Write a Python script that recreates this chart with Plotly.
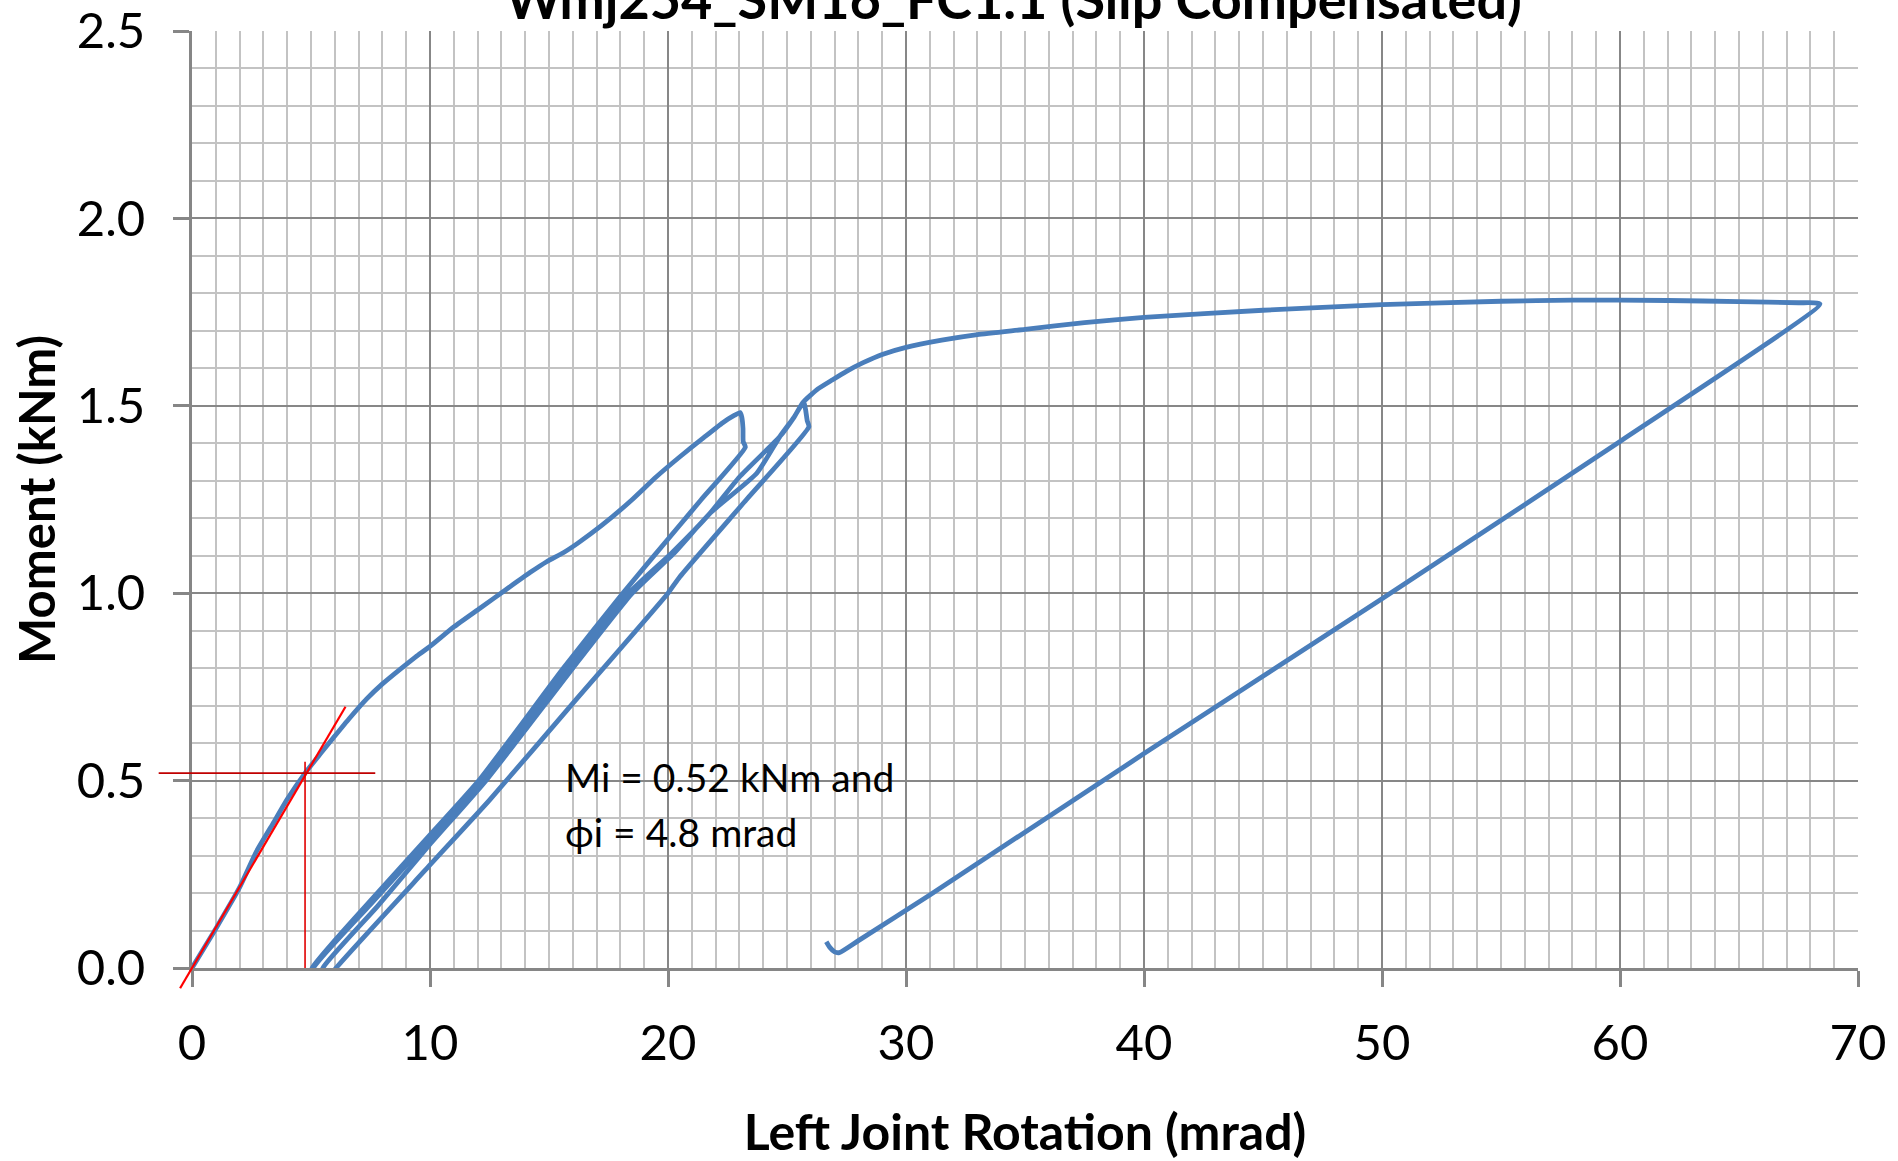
import plotly.graph_objects as go

# ---------------- data ----------------
# initial loading up to first peak
load1_x = [0, 1.0, 2.0, 2.7, 3.4, 4.0, 4.75, 5.4, 5.95, 6.6, 7.34, 8.0, 8.74, 9.4, 10.0, 11.0, 12.1, 13.2,
           14.2, 14.9, 15.6, 16.2, 17.2, 18.5, 19.5, 20.5, 21.5, 22.3, 22.8, 23.03]
load1_y = [0, 0.105, 0.215, 0.31, 0.385, 0.45, 0.52, 0.572, 0.615, 0.665, 0.718, 0.758, 0.797, 0.83, 0.858,
           0.91, 0.96, 1.01, 1.055, 1.084, 1.108, 1.133, 1.18, 1.25, 1.31, 1.364, 1.415, 1.455, 1.475, 1.482]
# relaxation at peak 1 and first unloading
unload1_x = [23.1, 23.15, 23.16, 23.25, 21.4, 20.5, 18.1, 15.6, 12.05, 10.0, 7.5, 5.05, 4.95]
unload1_y = [1.47, 1.44, 1.404, 1.39, 1.25, 1.182, 1.0, 0.8, 0.5, 0.355, 0.18, 0.0, -0.04]
# first reloading up to peak 2
reload1_x = [5.0, 5.1, 7.5, 10.0, 12.2, 15.8, 18.35, 20.2, 21.76, 23.0, 24.7, 25.3, 25.7]
reload1_y = [-0.04, 0.0, 0.17, 0.345, 0.5, 0.8, 1.0, 1.11, 1.213, 1.31, 1.418, 1.47, 1.511]
# relaxation at peak 2 and second unloading
unload2_x = [25.78, 25.85, 25.92, 23.3, 20.5, 20.0, 16.0, 12.5, 10.0, 6.05, 5.6]
unload2_y = [1.49, 1.46, 1.444, 1.25, 1.044, 1.0, 0.706, 0.448, 0.275, 0.0, -0.04]
# second reloading
reload2_x = [5.4, 5.5, 7.8, 10.0, 12.35, 16.0, 18.5, 20.3, 21.76, 23.73, 24.7, 25.3, 25.7]
reload2_y = [-0.04, 0.0, 0.165, 0.33, 0.5, 0.8, 1.0, 1.11, 1.213, 1.32, 1.418, 1.47, 1.511]
# loading to maximum
envelope_x = [26.3, 26.9, 27.5, 28.2, 29.0, 30.0, 31.5, 33.0, 35.0, 37.5, 40.0, 45.0, 50.0, 55.0, 58.0,
              62.0, 65.0, 67.5, 68.4]
envelope_y = [1.545, 1.569, 1.592, 1.615, 1.637, 1.656, 1.675, 1.69, 1.704, 1.722, 1.736, 1.755, 1.77,
              1.779, 1.782, 1.781, 1.778, 1.775, 1.772]
# final unloading
unload3_x = [60.0, 50.0, 40.0, 31.0, 28.0, 27.2, 27.0, 26.8, 26.65]
unload3_y = [1.405, 0.985, 0.572, 0.195, 0.073, 0.041, 0.043, 0.055, 0.07]

# initial stiffness construction
Mi = 0.52          # kNm
phi_i = 4.75       # mrad
tangent_x = [-0.5, 6.45]
tangent_y = [-0.054, 0.697]
hline_x = [-1.4, 7.7]
vline_y = [0.0, 0.55]

note_lines = ["Mi = 0.52 kNm and", "ϕi = 4.8 mrad"]
note_x = 15.6
note_y = [0.509, 0.362]

title_text = "Wmj254_SM16_FC1.1 (Slip Compensated)"
x_title = "Left Joint Rotation (mrad)"
y_title = "Moment (kNm)"
XMIN, XMAX = 0, 70
YMIN, YMAX = 0, 2.5

# ---------------- figure ----------------
curve_x = load1_x + unload1_x + reload1_x + unload2_x + reload2_x + envelope_x + unload3_x
curve_y = load1_y + unload1_y + reload1_y + unload2_y + reload2_y + envelope_y + unload3_y

BLUE = "#4A7EBB"
FONT = "Lato"

fig = go.Figure()
fig.add_trace(go.Scatter(x=curve_x, y=curve_y, mode="lines",
                         line=dict(color=BLUE, width=4.8, shape="spline", smoothing=0.5),
                         showlegend=False, hoverinfo="skip"))


def xd(v):
    return (v - XMIN) / (XMAX - XMIN)


def yd(v):
    return (v - YMIN) / (YMAX - YMIN)


# red construction lines (axis-domain units so they may leave the plot area as in the original)
fig.add_shape(type="line", xref="x domain", yref="y domain",
              x0=xd(tangent_x[0]), y0=yd(tangent_y[0]), x1=xd(tangent_x[1]), y1=yd(tangent_y[1]),
              line=dict(color="#FF0000", width=2.2))
fig.add_shape(type="line", xref="x domain", yref="y domain",
              x0=xd(hline_x[0]), y0=yd(Mi), x1=xd(hline_x[1]), y1=yd(Mi),
              line=dict(color="#C00000", width=1.6))
fig.add_shape(type="line", xref="x domain", yref="y domain",
              x0=xd(phi_i), y0=yd(vline_y[0]), x1=xd(phi_i), y1=yd(vline_y[1]),
              line=dict(color="#E00000", width=1.6))

for txt, yy in zip(note_lines, note_y):
    fig.add_annotation(x=note_x, y=yy, xref="x", yref="y", text=txt, showarrow=False,
                       xanchor="left", yanchor="middle",
                       font=dict(family=FONT, size=39, color="black"))

axis_common = dict(
    showline=True, linecolor="#868686", linewidth=3,
    ticks="outside", ticklen=16, tickwidth=3, tickcolor="#868686",
    showgrid=True, gridcolor="#878787", gridwidth=2,
    zeroline=False, mirror=False,
    tickfont=dict(family=FONT, size=49, color="black"),
    layer="above traces",
)

fig.update_xaxes(range=[XMIN, XMAX], tick0=0, dtick=10,
                 minor=dict(dtick=1, showgrid=True, gridcolor="#C3C3C3", gridwidth=2, ticks=""),
                 title=dict(text="<b>" + x_title + "</b>", font=dict(family=FONT, size=50, color="black"),
                            standoff=50),
                 ticklabelstandoff=14,
                 **axis_common)
fig.update_yaxes(range=[YMIN, YMAX], tick0=0, dtick=0.5, tickformat=".1f",
                 minor=dict(dtick=0.1, showgrid=True, gridcolor="#C3C3C3", gridwidth=2, ticks=""),
                 title=dict(text="<b>" + y_title + "</b>", font=dict(family=FONT, size=49, color="black"),
                            standoff=6),
                 ticklabelstandoff=18,
                 **axis_common)

fig.update_layout(
    width=1898, height=1161,
    margin=dict(l=192, r=40, t=31, b=193, autoexpand=False),
    paper_bgcolor="white", plot_bgcolor="white",
    title=dict(text="<b>" + title_text + "</b>", x=0.534, xanchor="center",
               yref="container", y=1.0, yanchor="middle",
               font=dict(family=FONT, size=54, color="black")),
    showlegend=False,
)

fig.write_html("out.html", config={"displayModeBar": False},
               post_script="document.body.style.margin='0px';")
